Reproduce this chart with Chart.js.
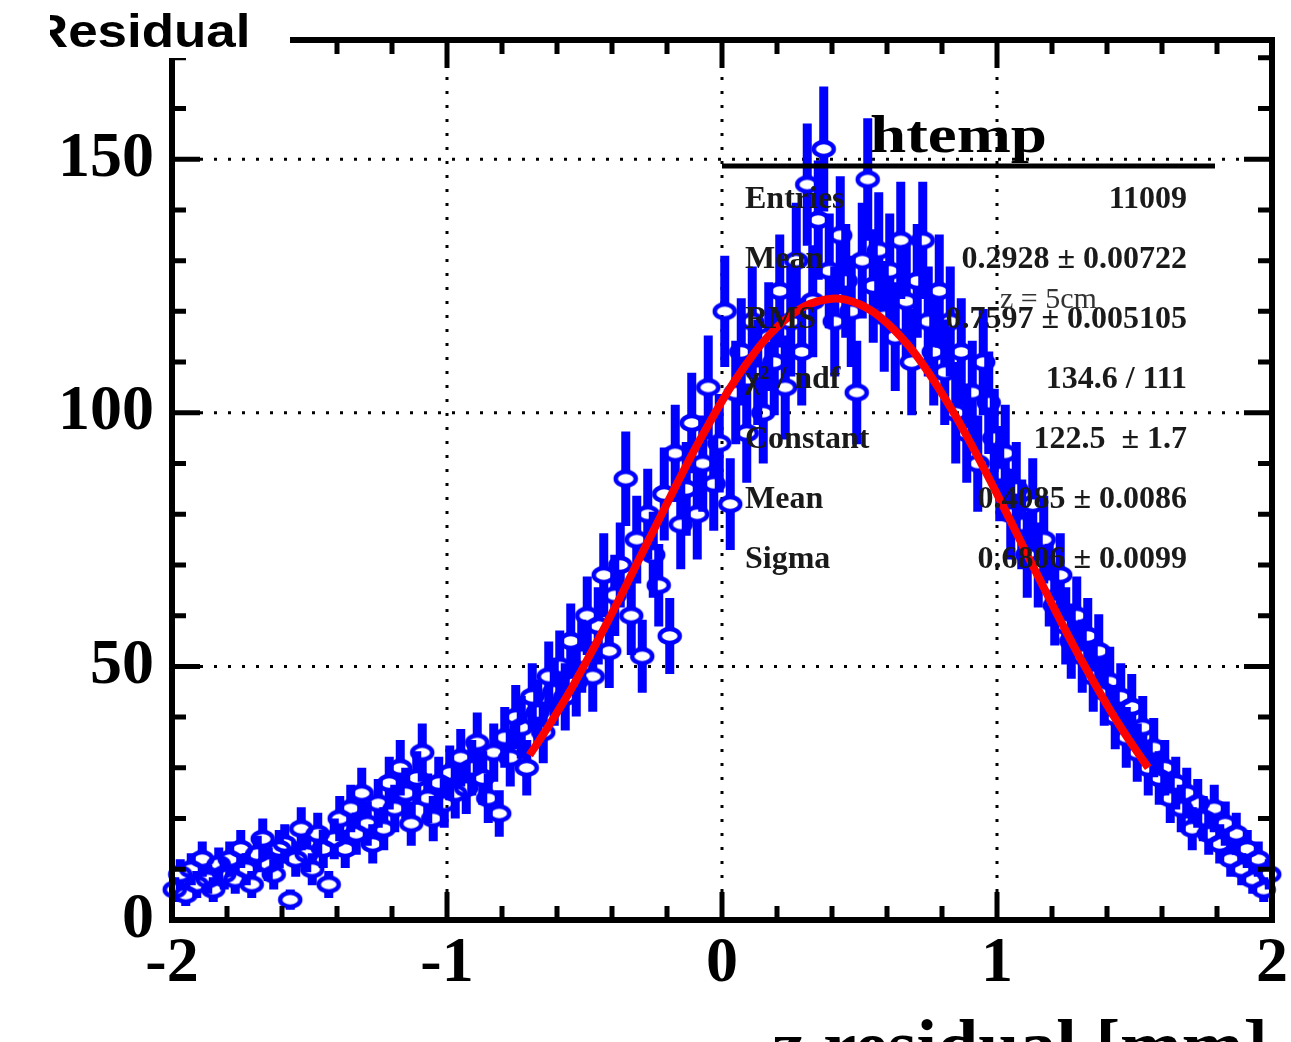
<!DOCTYPE html>
<html>
<head>
<meta charset="utf-8">
<script src="https://cdn.jsdelivr.net/npm/chart.js@4.4.1/dist/chart.umd.min.js"></script>
<style>
  html, body { margin: 0; padding: 0; background: #fff; overflow: hidden; }
</style>
</head>
<body>
<canvas id="residual-chart" width="1291" height="1042"></canvas>
<script>
// histogram "htemp": 200 bins from -2 to 2 mm, counts
const histMin = -2;
const histMax = 2;
const counts = [
  6, 9, 5, 10, 7, 12, 8, 6, 11, 9,
  12, 8, 14, 10, 7, 13, 16, 11, 9, 14,
  15, 4, 12, 18, 13, 10, 17, 14, 7, 16,
  20, 14, 22, 17, 25, 19, 15, 23, 18, 27,
  22, 30, 25, 19, 28, 33, 24, 20, 27, 23,
  29, 25, 32, 26, 30, 35, 28, 24, 33, 21,
  36, 32, 40, 38, 30, 44, 41, 37, 48, 45,
  50, 44, 55, 47, 52, 60, 48, 58, 68, 53,
  64, 70, 87, 60, 75, 52, 80, 72, 66, 84,
  56, 92, 78, 85, 98, 80, 90, 105, 86, 94,
  120, 82, 104, 112, 96, 118, 108, 100, 115, 110,
  124, 105, 118, 130, 112, 145, 122, 138, 152, 128,
  118, 135, 126, 120, 104, 130, 146, 125, 132, 119,
  128, 115, 134, 122, 110, 126, 134, 118, 112, 124,
  108, 118, 100, 112, 96, 104, 90, 110, 102, 95,
  88, 92, 80, 85, 78, 72, 82, 70, 75, 66,
  62, 68, 58, 55, 60, 52, 56, 48, 53, 45,
  47, 40, 44, 36, 42, 33, 38, 30, 34, 28,
  30, 24, 27, 22, 25, 18, 23, 20, 17, 22,
  15, 19, 12, 17, 10, 14, 8, 12, 6, 9
];

// red gaussian fit curve
const fitX = [-0.70, -0.65, -0.60, -0.55, -0.50, -0.45, -0.40, -0.35, -0.30, -0.25,
  -0.20, -0.15, -0.10, -0.05, 0.00, 0.05, 0.10, 0.15, 0.20, 0.25,
  0.30, 0.35, 0.40, 0.45, 0.50, 0.55, 0.60, 0.65, 0.70, 0.75,
  0.80, 0.85, 0.90, 0.95, 1.00, 1.05, 1.10, 1.15, 1.20, 1.25,
  1.30, 1.35, 1.40, 1.45, 1.50, 1.55];
const fitY = [32.5, 36.6, 40.9, 45.4, 50.3, 55.3, 60.5, 65.8, 71.3, 76.7,
  82.1, 87.5, 92.7, 97.6, 102.3, 106.6, 110.5, 114.0, 116.9, 119.2,
  121.0, 122.0, 122.5, 122.3, 121.4, 119.9, 117.7, 115.0, 111.8, 108.0,
  103.8, 99.3, 94.4, 89.3, 84.0, 78.6, 73.1, 67.7, 62.3, 57.0,
  51.9, 47.1, 42.4, 38.0, 33.9, 30.0];

const xTicks = [-2, -1, 0, 1, 2];
const yTicks = [0, 50, 100, 150];

const statLabels = ['Entries', 'Mean', 'RMS', 'χ² / ndf', 'Constant', 'Mean', 'Sigma'];
const statValues = ['11009', '0.2928 ± 0.00722', '0.7597 ± 0.005105', '134.6 / 111',
  '122.5  ± 1.7', '0.4085 ± 0.0086', '0.6806 ± 0.0099'];

const binWidth = (histMax - histMin) / counts.length;
const points = counts.map((n, i) => ({ x: histMin + (i + 0.5) * binWidth, y: n }));
const fitPoints = fitX.map((x, i) => ({ x: x, y: fitY[i] }));

const BLUE = '#0000ff';
const SERIF = '"Liberation Serif", "Times New Roman", serif';

// open marker, a bit wider than tall like in the picture
const marker = document.createElement('canvas');
marker.width = 28;
marker.height = 20;
(function () {
  const m = marker.getContext('2d');
  m.strokeStyle = BLUE;
  m.lineWidth = 4.5;
  m.beginPath();
  m.ellipse(14, 10, 10, 7, 0, 0, Math.PI * 2);
  m.stroke();
})();

// dotted grid + error bars, under the markers
const gridAndErrors = {
  id: 'gridAndErrors',
  beforeDatasetsDraw(chart) {
    const { ctx, chartArea: a, scales: { x, y } } = chart;
    ctx.save();
    ctx.strokeStyle = '#000';
    ctx.lineWidth = 3;
    ctx.setLineDash([3, 11]);
    xTicks.slice(1, -1).forEach(v => {
      const px = x.getPixelForValue(v);
      ctx.beginPath(); ctx.moveTo(px, a.bottom); ctx.lineTo(px, a.top); ctx.stroke();
    });
    yTicks.slice(1).forEach(v => {
      const py = y.getPixelForValue(v);
      ctx.beginPath(); ctx.moveTo(a.left, py); ctx.lineTo(a.right, py); ctx.stroke();
    });
    ctx.setLineDash([]);

    ctx.strokeStyle = BLUE;
    ctx.lineWidth = 9;
    points.forEach(p => {
      const e = Math.sqrt(p.y);
      const px = x.getPixelForValue(p.x);
      const py = y.getPixelForValue(p.y);
      const top = y.getPixelForValue(p.y + e);
      const bot = y.getPixelForValue(Math.max(p.y - e, 0));
      ctx.beginPath();
      ctx.moveTo(px, top); ctx.lineTo(px, py - 7);
      ctx.moveTo(px, py + 7); ctx.lineTo(px, bot);
      ctx.stroke();
    });
    ctx.restore();
  }
};

// ROOT style frame with inward ticks, stats box and titles
const rootFrame = {
  id: 'rootFrame',
  afterDraw(chart) {
    const { ctx, chartArea: a, scales: { x, y } } = chart;
    ctx.save();
    ctx.strokeStyle = '#000';
    ctx.fillStyle = '#000';

    ctx.lineWidth = 6;
    ctx.strokeRect(a.left, a.top, a.right - a.left, a.bottom - a.top);

    // ticks
    ctx.lineWidth = 5;
    ctx.beginPath();
    for (let v = histMin; v <= histMax + 1e-9; v += 0.2) {
      const px = x.getPixelForValue(v);
      const major = Math.abs(v - Math.round(v)) < 1e-6;
      const len = major ? 28 : 14;
      ctx.moveTo(px, a.bottom); ctx.lineTo(px, a.bottom - len);
      ctx.moveTo(px, a.top); ctx.lineTo(px, a.top + len);
    }
    for (let v = 0; v <= y.max; v += 10) {
      const py = y.getPixelForValue(v);
      const len = v % 50 === 0 ? 28 : 14;
      ctx.moveTo(a.left, py); ctx.lineTo(a.left + len, py);
      ctx.moveTo(a.right, py); ctx.lineTo(a.right - len, py);
    }
    ctx.stroke();

    // title box covering the top-left corner of the frame
    ctx.fillStyle = '#fff';
    ctx.fillRect(0, 0, 290, 58);
    ctx.save();
    ctx.beginPath(); ctx.rect(50, 0, 240, 58); ctx.clip();
    ctx.fillStyle = '#000';
    ctx.font = 'bold 46px "Liberation Sans", Arial, sans-serif';
    ctx.textBaseline = 'alphabetic';
    ctx.translate(30, 47);
    ctx.scale(1.15, 1);
    ctx.fillText('Residual', 0, 0);
    ctx.restore();

    // stats box
    ctx.lineWidth = 5;
    ctx.beginPath(); ctx.moveTo(722, 166); ctx.lineTo(1215, 166); ctx.stroke();
    ctx.save();
    ctx.fillStyle = '#000';
    ctx.font = 'bold 52px ' + SERIF;
    ctx.translate(870, 152);
    ctx.scale(1.25, 1);
    ctx.fillText('htemp', 0, 0);
    ctx.restore();

    ctx.fillStyle = '#1a1a1a';
    ctx.font = 'bold 32px ' + SERIF;
    ctx.textBaseline = 'middle';
    statLabels.forEach((t, i) => {
      const ry = 200 + i * 60;
      ctx.textAlign = 'left';
      ctx.fillText(t, 745, ry);
      ctx.textAlign = 'right';
      ctx.fillText(statValues[i], 1187, ry);
    });
    ctx.textAlign = 'left';
    ctx.fillStyle = '#333';
    ctx.font = '30px ' + SERIF;
    ctx.fillText('z = 5cm', 1000, 300);

    // x axis title, cut by the bottom edge
    ctx.fillStyle = '#000';
    ctx.textAlign = 'right';
    ctx.textBaseline = 'alphabetic';
    ctx.font = 'bold 74px ' + SERIF;
    ctx.fillText('z residual [mm]', 1268, 1071);
    ctx.restore();
  }
};

const tickFont = { family: SERIF, weight: 'bold', size: 64 };

new Chart(document.getElementById('residual-chart'), {
  type: 'scatter',
  data: {
    datasets: [
      {
        label: 'fit',
        type: 'line',
        data: fitPoints,
        borderColor: '#ff0000',
        borderWidth: 8,
        pointRadius: 0,
        tension: 0.3,
        fill: false,
        order: 0
      },
      {
        label: 'htemp',
        data: points,
        pointStyle: marker,
        pointRadius: 9,
        clip: false,
        order: 1
      }
    ]
  },
  options: {
    responsive: false,
    animation: false,
    devicePixelRatio: 1,
    layout: { padding: { top: 40, right: 19, left: 0, bottom: 0 } },
    plugins: { legend: { display: false }, tooltip: { enabled: false } },
    scales: {
      x: {
        type: 'linear',
        min: histMin,
        max: histMax,
        grid: { display: false, drawTicks: false },
        border: { display: false },
        afterBuildTicks(s) { s.ticks = xTicks.map(v => ({ value: v })); },
        ticks: { color: '#000', font: tickFont, padding: 6, maxRotation: 0, autoSkip: false },
        afterFit(s) { s.height = 122; s.paddingLeft = 0; s.paddingRight = 0; }
      },
      y: {
        min: 0,
        max: 173.5,
        grid: { display: false, drawTicks: false },
        border: { display: false },
        afterBuildTicks(s) { s.ticks = yTicks.map(v => ({ value: v })); },
        ticks: { color: '#000', font: tickFont, padding: 18 },
        afterFit(s) { s.width = 172; s.paddingTop = 0; s.paddingBottom = 0; }
      }
    }
  },
  plugins: [gridAndErrors, rootFrame]
});
</script>
</body>
</html>
